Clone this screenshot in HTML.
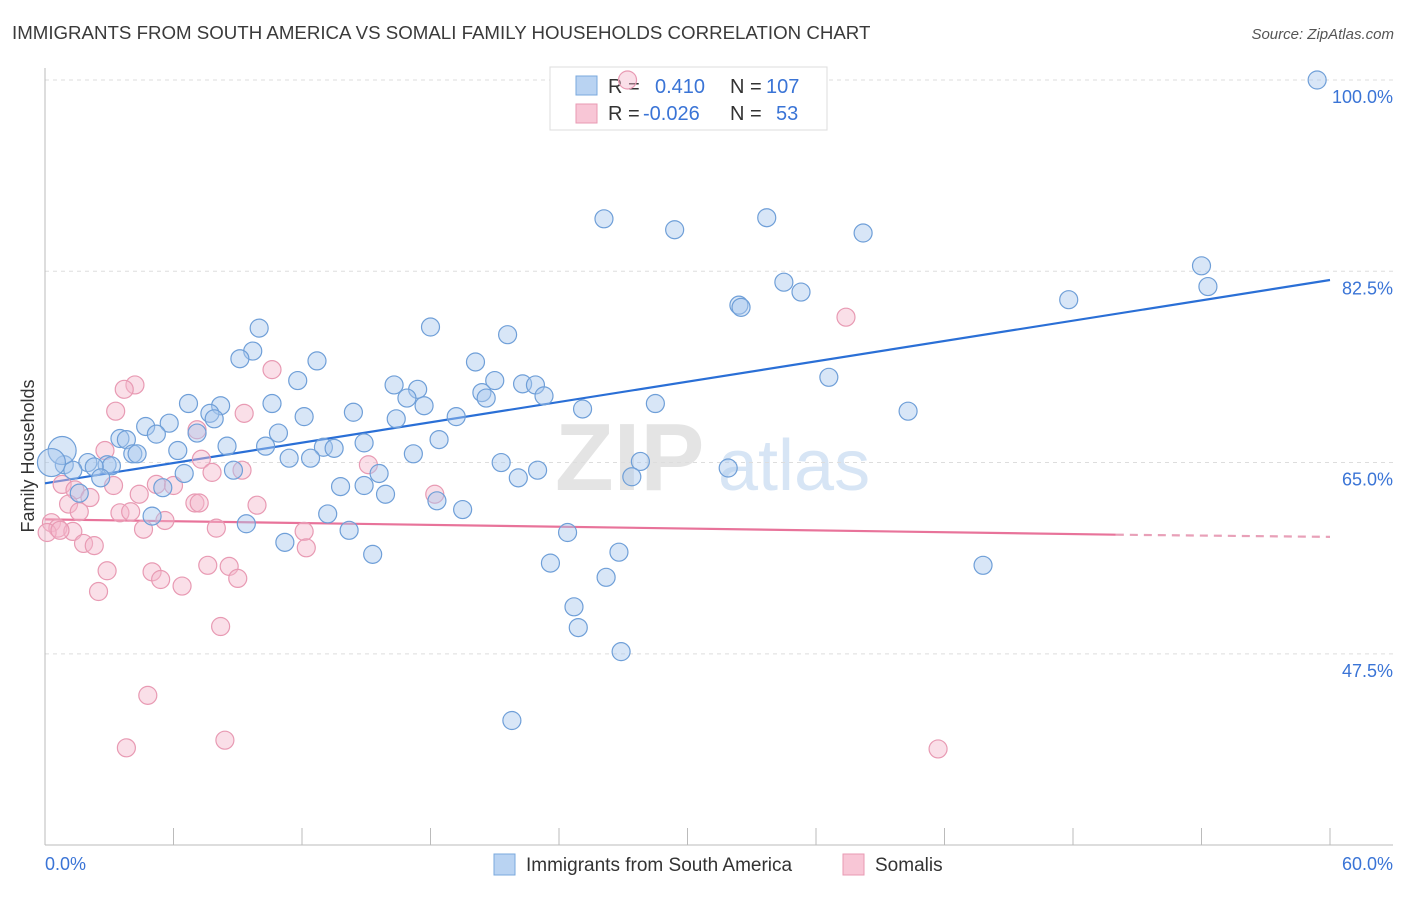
<!DOCTYPE html>
<html><head><meta charset="utf-8">
<style>
body{margin:0;background:#fff;font-family:"Liberation Sans",sans-serif;}
svg text{font-family:"Liberation Sans",sans-serif;}
</style></head>
<body>
<svg id="chart" width="1406" height="892" xmlns="http://www.w3.org/2000/svg">
<text x="12" y="39" font-size="18.7" fill="#3a3a3a">IMMIGRANTS FROM SOUTH AMERICA VS SOMALI FAMILY HOUSEHOLDS CORRELATION CHART</text>
<text x="1394" y="39" font-size="15" fill="#555" font-style="italic" text-anchor="end">Source: ZipAtlas.com</text>
<g>
<text x="555" y="490" font-size="96" fill="#e4e4e4" font-family="Liberation Serif" font-weight="bold">ZIP</text>
<text x="718" y="490" font-size="72" fill="#d7e5f5">atlas</text>
</g>
<g id="grid"></g>
<g id="axes"></g>
<g>
<rect x="550" y="67" width="277" height="63" fill="#fff" stroke="#ddd"/>
<rect x="576" y="76" width="21" height="19" fill="#b9d3f2" stroke="#7aa8dd"/>
<rect x="576" y="104" width="21" height="19" fill="#f8c6d6" stroke="#e89ab3"/>
<text x="608" y="93" font-size="20" fill="#333">R =</text>
<text x="655" y="93" font-size="20" fill="#3a74d6">0.410</text>
<text x="730" y="93" font-size="20" fill="#333">N =</text>
<text x="766" y="93" font-size="20" fill="#3a74d6">107</text>
<text x="608" y="120" font-size="20" fill="#333">R =</text>
<text x="643" y="120" font-size="20" fill="#3a74d6">-0.026</text>
<text x="730" y="120" font-size="20" fill="#333">N =</text>
<text x="776" y="120" font-size="20" fill="#3a74d6">53</text>
</g>
<g id="lines"></g>
<g id="points"></g>
<text transform="translate(34,456) rotate(-90)" font-size="18" fill="#333" text-anchor="middle">Family Households</text>
<text x="45" y="870" font-size="18" fill="#3a74d6">0.0%</text>
<text x="1393" y="870" font-size="18" fill="#3a74d6" text-anchor="end">60.0%</text>
<g>
<rect x="494" y="854" width="21" height="21" fill="#b9d3f2" stroke="#7aa8dd"/>
<text x="526" y="871" font-size="19" fill="#333">Immigrants from South America</text>
<rect x="843" y="854" width="21" height="21" fill="#f8c6d6" stroke="#e89ab3"/>
<text x="875" y="871" font-size="19" fill="#333">Somalis</text>
</g>
</svg>
<script>
const yTicks=[100,82.5,65,47.5];
const yTickLabels=["100.0%","82.5%","65.0%","47.5%"];
const xTicks=[0,6,12,18,24,30,36,42,48,54,60];
const blueX=[59.4,26.1,29.4,33.7,38.2,54.0,54.3,34.5,35.3,32.4,32.5,47.8,10.0,18.0,21.6,9.7,9.1,12.7,20.1,36.6,11.8,16.3,17.4,21.0,22.3,22.9,20.4,20.6,16.9,23.3,6.7,8.2,10.6,14.4,25.1,28.5,40.3,7.7,12.1,17.7,16.4,19.2,7.9,4.7,5.8,5.2,7.1,3.5,3.8,10.9,14.9,8.5,10.3,18.4,13.0,13.5,6.2,4.1,4.3,11.4,12.4,17.2,2.0,0.9,1.3,2.9,3.1,2.3,2.6,6.5,8.8,15.6,21.3,23.0,27.8,27.4,31.9,22.1,1.6,5.5,13.8,14.9,15.9,18.3,19.5,13.2,5.0,9.4,14.2,24.4,11.2,15.3,26.8,23.6,43.8,26.2,24.7,24.9,26.9,21.8];
const blueY=[100.0,87.3,86.3,87.4,86.0,83.0,81.1,81.5,80.6,79.4,79.2,79.9,77.3,77.4,76.7,75.2,74.5,74.3,74.2,72.8,72.5,72.1,71.7,72.5,72.2,72.1,71.4,70.9,70.9,71.1,70.4,70.2,70.4,69.6,69.9,70.4,69.7,69.5,69.2,70.2,69.0,69.2,69.0,68.3,68.6,67.6,67.7,67.2,67.1,67.7,66.8,66.5,66.5,67.1,66.4,66.3,66.1,65.8,65.8,65.4,65.4,65.8,65.0,64.8,64.3,64.8,64.7,64.6,63.6,64.0,64.3,64.0,65.0,64.3,65.1,63.7,64.5,63.6,62.2,62.7,62.8,62.9,62.1,61.5,60.7,60.3,60.1,59.4,58.8,58.6,57.7,56.6,56.8,55.8,55.6,54.5,51.8,49.9,47.7,41.4];
const blueBigX=[0.8,0.3];
const blueBigY=[66.1,65.0];
const pinkX=[27.2,37.4,10.6,4.2,3.7,3.3,9.3,7.1,2.8,7.3,9.2,7.8,15.1,18.2,0.8,1.4,2.1,3.2,4.4,5.2,6.0,7.0,7.2,9.9,1.1,1.6,3.5,4.0,5.6,0.3,0.6,1.3,4.6,8.0,12.1,1.8,2.3,12.2,0.1,2.9,5.0,7.6,8.6,5.4,9.0,6.4,2.5,8.2,4.8,3.8,8.4,41.7,0.7];
const pinkY=[100,78.3,73.5,72.1,71.7,69.7,69.5,68.0,66.1,65.3,64.3,64.1,64.8,62.1,63.0,62.5,61.8,62.9,62.1,63.0,62.9,61.3,61.3,61.1,61.2,60.5,60.4,60.5,59.7,59.5,59.0,58.7,58.9,59.0,58.7,57.6,57.4,57.2,58.6,55.1,55.0,55.6,55.5,54.3,54.4,53.7,53.2,50.0,43.7,38.9,39.6,38.8,58.8];
const blueTrend=[[0,63.1],[60,81.7]];
const pinkTrendSolid=[[0,59.8],[50,58.4]];
const pinkTrendDash=[[50,58.4],[60,58.2]];

const NS="http://www.w3.org/2000/svg";
const X=v=>45+v/60*1285;
const Y=v=>80+(100-v)*10.93;
function mk(tag,attrs,parent){const e=document.createElementNS(NS,tag);for(const k in attrs)e.setAttribute(k,attrs[k]);document.getElementById(parent).appendChild(e);return e;}
yTicks.forEach((t,i)=>{
  const l=mk('line',{x1:45,x2:1393,y1:Y(t),y2:Y(t),stroke:'#ddd','stroke-dasharray':'4,4'},'grid');
  
  
  const tx=mk('text',{x:1393,y:Y(t)+23,'font-size':18,fill:'#3a74d6','text-anchor':'end'},'grid');
  tx.textContent=yTickLabels[i];
  
  
});
let a=mk('line',{x1:45,x2:45,y1:68,y2:845,stroke:'#bbb'},'axes');


a=mk('line',{x1:45,x2:1393,y1:845,y2:845,stroke:'#bbb'},'axes');


xTicks.forEach(t=>{
  const l=mk('line',{x1:X(t),x2:X(t),y1:828,y2:845,stroke:'#bbb'},'axes');
  
  
});
function line(p,color,dash,name){
  const l=mk('line',{x1:X(p[0][0]),y1:Y(p[0][1]),x2:X(p[1][0]),y2:Y(p[1][1]),stroke:color,'stroke-width':2.2},'lines');
  if(dash)l.setAttribute('stroke-dasharray','8,6');
  
  
}
line(blueTrend,'#2a6fd6',false,'trend-line-immigrants');
line(pinkTrendSolid,'#e8739a',false,'trend-line-somalis');
line(pinkTrendDash,'#e8a0b8',true,'trend-line-somalis-extension');
function pts(xs,ys,r,fill,stroke,name){
  xs.forEach((x,i)=>{
    const c=mk('circle',{cx:X(x),cy:Y(ys[i]),r:r,fill:fill,'fill-opacity':0.45,stroke:stroke,'stroke-width':1.2},'points');
    
    
  });
}
pts(pinkX,pinkY,9,'#f5b8cc','#e89ab3','point-somalis');
pts(blueX,blueY,9,'#a9c8ee','#6f9fd8','point-immigrants');
pts(blueBigX,blueBigY,14,'#a9c8ee','#6f9fd8','point-immigrants-large');
</script>
</body></html>
